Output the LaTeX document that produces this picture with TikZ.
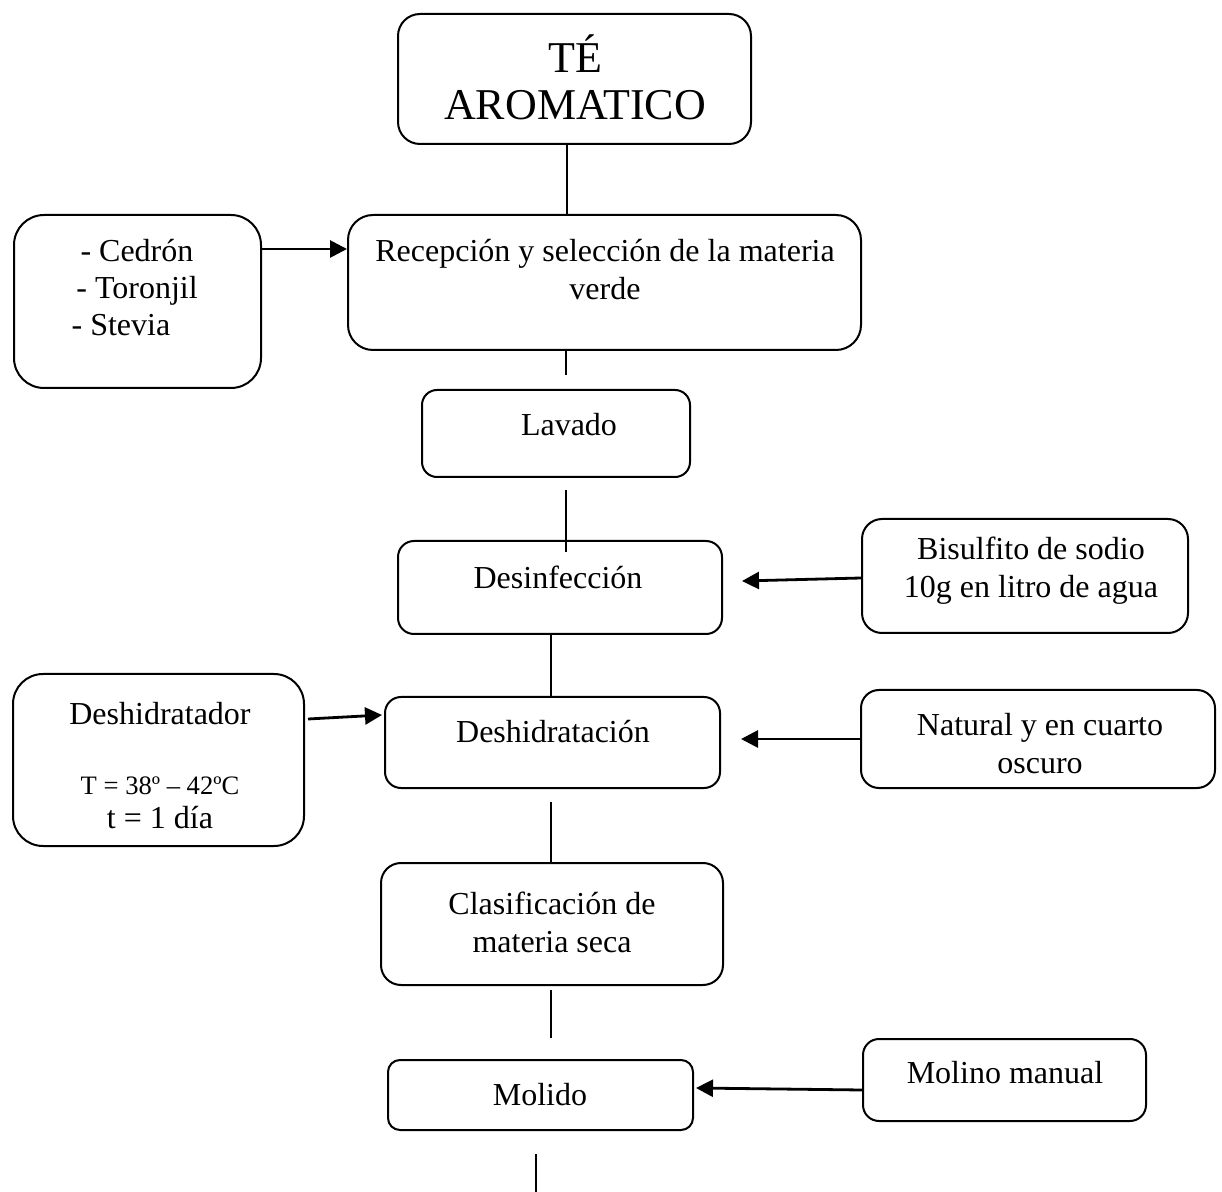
\documentclass[tikz,border=0pt]{standalone}
\usepackage{fontspec}
\setmainfont{Liberation Serif}
\usetikzlibrary{arrows.meta}
\tikzset{
  box/.style={draw, line width=1pt, inner sep=0pt},
  txt/.style={align=center, inner sep=0pt, font=\fontsize{16}{19}\selectfont},
  ttl/.style={align=center, inner sep=0pt, font=\fontsize{22}{23.5}\selectfont},
  conn/.style={line width=1pt},
  arr/.style={line width=1.4pt, -{Triangle[length=8.5pt,width=8.5pt]}}
}
\begin{document}
\begin{tikzpicture}[x=0.5pt,y=-0.5pt]
\useasboundingbox (0,0) rectangle (1222,1192);
% boxes
\node[box, rounded corners=11pt, minimum width=176.5pt, minimum height=65pt] (title) at (574.5,79) {};
\node[box, rounded corners=15pt, minimum width=123.5pt, minimum height=86.5pt] (cedron) at (137.5,301.5) {};
\node[box, rounded corners=12.5pt, minimum width=256.5pt, minimum height=67.5pt] (recep) at (604.5,282.5) {};
\node[box, rounded corners=7.5pt, minimum width=134pt, minimum height=43.5pt] (lavado) at (556,433.5) {};
\node[box, rounded corners=8pt, minimum width=162pt, minimum height=46.5pt] (desinf) at (560,587.5) {};
\node[box, rounded corners=10pt, minimum width=163pt, minimum height=57pt] (bisulf) at (1025,576) {};
\node[box, rounded corners=8pt, minimum width=167.5pt, minimum height=45.5pt] (deshid) at (552.5,742.5) {};
\node[box, rounded corners=9pt, minimum width=177pt, minimum height=49pt] (natural) at (1038,739) {};
\node[box, rounded corners=15pt, minimum width=145.5pt, minimum height=86pt] (deshtor) at (158.5,760) {};
\node[box, rounded corners=10pt, minimum width=171pt, minimum height=61pt] (clasif) at (552,924) {};
\node[box, rounded corners=6pt, minimum width=152.5pt, minimum height=35pt] (molido) at (540.5,1095) {};
\node[box, rounded corners=8pt, minimum width=141.5pt, minimum height=41pt] (molino) at (1004.5,1080) {};
% texts
\node[ttl] (ttitle) at (575,77) {TÉ\\AROMATICO};
\node[txt, font=\fontsize{16}{18.5}\selectfont] (tcedron) at (137,288) {- Cedrón\\- Toronjil\\\mbox{- Stevia\kern16pt}};
\node[txt] (trecep) at (605,270) {Recepción y selección de la materia\\verde};
\node[txt] (tlavado) at (569,425) {Lavado};
\node[txt] (tdesinf) at (558,577) {Desinfección};
\node[txt] (tbisulf) at (1031,571) {Bisulfito de sodio\\10g en litro de agua};
\node[txt] (tdeshtor) at (160,714) {Deshidratador};
\node[txt, font=\fontsize{13.3}{15}\selectfont] (ttemp) at (160,786) {T = 38º – 42ºC};
\node[txt] (ttime) at (160,818) {t = 1 día};
\node[txt] (tdeshid) at (553,732) {Deshidratación};
\node[txt] (tnatural) at (1040,744) {Natural y en cuarto\\oscuro};
\node[txt] (tclasif) at (552,922) {Clasificación de\\materia seca};
\node[txt] (tmolido) at (540,1095) {Molido};
\node[txt] (tmolino) at (1005,1073) {Molino manual};
% helper coordinates
\coordinate (c1) at (567,0);
\coordinate (c2) at (551,0);
\coordinate (s1) at (566,375);
\coordinate (c3) at (536,1192);
\coordinate (a1) at (0,249);
\coordinate (a2) at (0,578);
\coordinate (a2e) at (0,581);
\coordinate (a3) at (0,739);
\coordinate (a4) at (0,719);
\coordinate (a4e) at (0,715);
\coordinate (a5) at (0,1090);
\coordinate (a5e) at (0,1088);
% connectors
\draw[conn] (title.south -| c1) -- (recep.north -| c1);
\draw[conn] (recep.south -| s1) -- (s1);
\draw[conn] ([yshift=-6pt]lavado.south -| s1) -- ([yshift=-6pt]desinf.north -| s1);
\draw[conn] (desinf.south -| c2) -- (deshid.north -| c2);
\draw[conn] ([yshift=-6.5pt]deshid.south -| c2) -- (clasif.north -| c2);
\draw[conn] ([yshift=-2pt]clasif.south -| c2) -- ([yshift=10.5pt]molido.north -| c2);
\draw[conn] ([yshift=-11.5pt]molido.south -| c3) -- (c3);
% arrows
\draw[arr] (cedron.east |- a1) -- (recep.west |- a1);
\draw[arr] (bisulf.west |- a2) -- ([xshift=9.5pt]desinf.east |- a2e);
\draw[arr] (natural.west |- a3) -- ([xshift=10pt]deshid.east |- a3);
\draw[arr] ([xshift=1.5pt]deshtor.east |- a4) -- ([xshift=-1pt]deshid.west |- a4e);
\draw[arr] (molino.west |- a5) -- ([xshift=1pt]molido.east |- a5e);
\end{tikzpicture}
\end{document}
